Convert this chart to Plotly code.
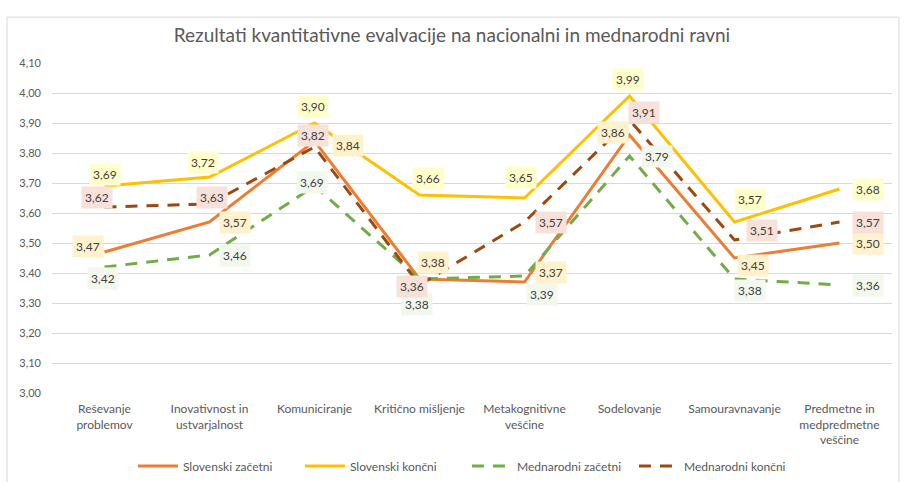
import plotly.graph_objects as go

categories = ["Reševanje<br>problemov", "Inovativnost in<br>ustvarjalnost", "Komuniciranje",
              "Kritično mišljenje", "Metakognitivne<br>veščine", "Sodelovanje",
              "Samouravnavanje", "Predmetne in<br>medpredmetne<br>veščine"]

slo_zacetni = [3.47, 3.57, 3.84, 3.38, 3.37, 3.86, 3.45, 3.50]
slo_koncni = [3.69, 3.72, 3.90, 3.66, 3.65, 3.99, 3.57, 3.68]
med_zacetni = [3.42, 3.46, 3.69, 3.38, 3.39, 3.79, 3.38, 3.36]
med_koncni = [3.62, 3.63, 3.82, 3.36, 3.57, 3.91, 3.51, 3.57]

series_names = ["Slovenski začetni", "Slovenski končni", "Mednarodni začetni", "Mednarodni končni"]

# styles
colors = ["#ED7D31", "#FFC000", "#70AD47", "#9E480E"]
dashes = ["solid", "solid", "12px,9px", "12px,9px"]
label_bg = ["#FFF2CC", "#FFFFCC", "#F2F8EE", "#F8E1D8"]
# label offsets (dx, dy in px, dy positive = down)
offsets = [
    [(-17, -6), (25, 0), (33, 4), (13, -17), (26, -10), (-17, -3), (18, 7), (28, 0)],
    [(0, -12), (-7, -15), (-2, -17), (8, -17), (-4, -21), (-2, -17), (15, -23), (28, 0)],
    [(-2, 11), (25, 0), (-3, -4), (-3, 25), (17, 18), (27, 0), (15, 11), (28, 0)],
    [(-8, -10), (2, -7), (-2, -12), (-8, 1), (26, 0), (14, -8), (27, -10), (28, 0)],
]

all_series = [slo_zacetni, slo_koncni, med_zacetni, med_koncni]

FONT = "Lato, Open Sans, sans-serif"

fig = go.Figure()
for name, vals, c, d in zip(series_names, all_series, colors, dashes):
    fig.add_trace(go.Scatter(x=categories, y=vals, name=name, mode="lines",
                             line=dict(color=c, width=3, dash=d)))

annotations = []
for vals, bg, offs in zip(all_series, label_bg, offsets):
    for cat, v, (dx, dy) in zip(categories, vals, offs):
        annotations.append(dict(x=cat, y=v, xref="x", yref="y",
                                text=f"{v:.2f}".replace(".", ","), showarrow=False,
                                xshift=dx, yshift=-dy, bgcolor=bg, borderpad=3,
                                font=dict(family=FONT, size=12, color="#404040")))

fig.update_layout(
    width=904, height=482,
    margin=dict(l=52, r=12, t=63, b=89, autoexpand=False),
    paper_bgcolor="white", plot_bgcolor="white",
    separators=",.",
    title=dict(text="Rezultati kvantitativne evalvacije na nacionalni in mednarodni ravni",
               x=0.5, xanchor="center", y=1 - 35 / 482, yanchor="middle",
               font=dict(family=FONT, size=19, color="#595959")),
    font=dict(family=FONT, size=11, color="#595959"),
    xaxis=dict(type="category", range=[-0.5, 7.5], showgrid=False, showline=False,
               ticks="", tickfont=dict(size=12, color="#595959"), tickangle=0,
               automargin=False, ticklabelstandoff=7),
    yaxis=dict(range=[3.0, 4.1], dtick=0.1, tick0=3.0, tickformat=".2f",
               showgrid=True, gridcolor="#D9D9D9", gridwidth=1, zeroline=False,
               showline=False, ticks="", ticklabelstandoff=10, automargin=False,
               tickfont=dict(size=11, color="#595959")),
    legend=dict(orientation="h", x=0.494, xanchor="center",
                yref="container", y=(482 - 466) / 482, yanchor="middle",
                font=dict(size=12, color="#595959"), entrywidth=112, entrywidthmode="pixels",
                itemwidth=40, bgcolor="rgba(0,0,0,0)"),
    annotations=annotations,
    shapes=[dict(type="rect", xref="paper", yref="paper", x0=-0.0536, x1=1.0083,
                 y0=-0.28, y1=1.139, line=dict(color="#D9D9D9", width=1), layer="below")],
)

fig.write_html("out.html", config={"displayModeBar": False},
               post_script="document.body.style.margin='0';")
